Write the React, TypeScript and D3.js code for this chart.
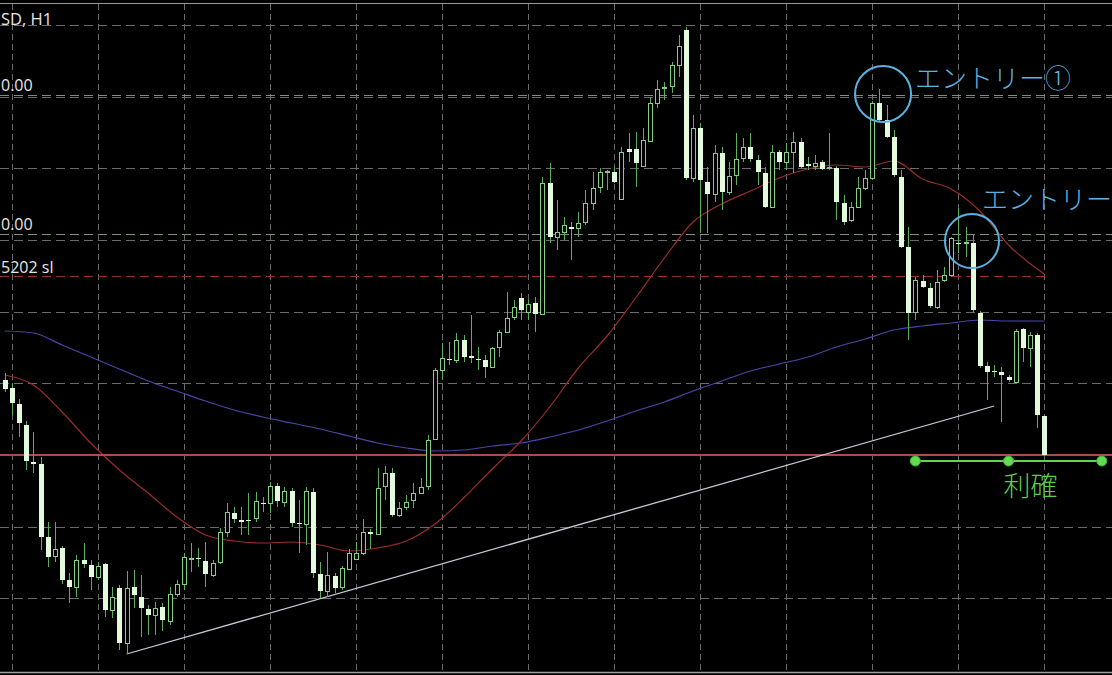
import React from 'react';
import * as d3 from 'd3';

const W = 1112;
const H = 675;

// OHLC values (price in points), candle index 0..145 (H1 bars)
const opens = [
  320, 312, 296, 275, 238, 236, 163, 144, 152, 120, 113, 140, 135, 123, 136, 90, 112, 57, 113, 103,
  91, 85, 93, 79, 106, 116, 141, 142, 139, 125, 138, 168, 187, 180, 180, 182, 197, 197, 214, 198,
  209, 177, 176, 208, 126, 109, 124, 113, 131, 141, 147, 168, 166, 214, 227, 185, 193, 200, 207, 214,
  261, 330, 341, 340, 360, 344, 341, 340, 333, 353, 368, 383, 402, 388, 397, 386, 517, 463, 468, 473,
  472, 478, 497, 513, 528, 528, 501, 551, 551, 534, 559, 597, 612, 614, 635, 670, 522, 572, 518, 506,
  547, 508, 525, 542, 553, 540, 527, 493, 548, 538, 548, 558, 536, 534, 538, 532, 532, 497, 480, 493,
  512, 522, 597, 580, 563, 523, 453, 388, 419, 412, 393, 420, 425, 457, 457, 457, 387, 334, 329, 328,
  323, 318, 371, 352, 365, 284,
];
const highs = [
  327, 317, 301, 279, 268, 243, 178, 178, 154, 127, 145, 157, 140, 138, 137, 113, 115, 129, 130, 125,
  95, 98, 97, 113, 120, 147, 157, 152, 158, 140, 172, 197, 193, 193, 207, 208, 203, 218, 217, 213,
  212, 200, 213, 212, 138, 148, 127, 134, 151, 158, 181, 171, 232, 234, 232, 198, 205, 217, 222, 265,
  332, 357, 358, 367, 365, 385, 353, 345, 353, 370, 408, 400, 407, 400, 403, 523, 537, 500, 483, 478,
  488, 510, 528, 532, 530, 533, 553, 567, 568, 572, 603, 620, 618, 638, 665, 673, 585, 577, 533, 555,
  553, 538, 567, 562, 567, 545, 533, 555, 550, 557, 568, 562, 543, 545, 540, 567, 534, 505, 498, 523,
  530, 599, 611, 595, 570, 530, 473, 423, 425, 417, 430, 433, 463, 492, 473, 465, 389, 338, 335, 333,
  325, 371, 372, 368, 367, 285,
];
const lows = [
  308, 285, 263, 230, 227, 150, 133, 138, 116, 97, 103, 132, 110, 120, 83, 82, 50, 46, 92, 63,
  65, 65, 69, 75, 103, 110, 128, 133, 113, 123, 136, 163, 177, 165, 165, 178, 188, 187, 193, 193,
  173, 147, 155, 122, 102, 103, 107, 110, 130, 140, 145, 151, 165, 200, 183, 183, 190, 192, 207, 210,
  260, 320, 335, 337, 338, 337, 330, 322, 332, 343, 367, 380, 380, 380, 368, 385, 457, 450, 460, 440,
  463, 475, 490, 507, 510, 517, 500, 538, 513, 533, 558, 592, 600, 607, 623, 520, 518, 467, 467, 498,
  490, 505, 515, 538, 538, 515, 492, 492, 530, 530, 527, 532, 530, 530, 530, 530, 480, 475, 478, 492,
  510, 522, 578, 562, 523, 452, 360, 380, 412, 392, 391, 418, 423, 447, 443, 388, 332, 300, 323, 278,
  318, 317, 338, 333, 272, 244,
];
const closes = [
  311, 297, 277, 239, 236, 163, 143, 151, 120, 113, 140, 136, 123, 134, 90, 103, 57, 112, 105, 92,
  85, 92, 80, 106, 116, 143, 142, 141, 126, 137, 168, 188, 181, 178, 179, 199, 196, 214, 199, 209,
  177, 176, 209, 127, 109, 125, 112, 132, 147, 147, 168, 166, 212, 227, 185, 192, 198, 207, 213, 260,
  330, 342, 341, 360, 343, 342, 340, 333, 352, 368, 382, 393, 390, 396, 386, 517, 463, 468, 475, 471,
  477, 497, 512, 528, 529, 518, 548, 548, 537, 560, 597, 611, 613, 635, 654, 522, 572, 520, 506, 547,
  508, 524, 541, 553, 541, 528, 493, 548, 538, 548, 558, 533, 534, 537, 531, 533, 498, 478, 493, 512,
  522, 597, 580, 563, 525, 453, 387, 420, 413, 394, 418, 425, 462, 457, 458, 390, 334, 328, 329, 325,
  320, 369, 352, 365, 285, 245,
];

// Moving averages sampled at bar indices
const maIdx = [0, 4, 8, 12, 16, 20, 24, 28, 32, 36, 40, 44, 48, 52, 56, 60, 64, 68, 72, 76, 80, 84, 88, 92, 96, 100, 104, 108, 112, 116, 120, 124, 128, 132, 136, 140, 144, 145];
const maRed = [325, 315, 288, 257, 230, 207, 183, 165, 159, 157, 158, 155, 149, 152, 159, 176, 202, 231, 259, 293, 332, 364, 402, 442, 478, 496, 509, 522, 531, 535, 533, 539, 521, 511, 489, 455, 431, 426];
const maBlue = [369, 367, 355, 343, 331, 319, 309, 299, 290, 283, 277, 271, 264, 257, 252, 249, 250, 254, 257, 263, 270, 279, 289, 298, 309, 319, 329, 336, 343, 353, 361, 370, 374, 377, 380, 379, 379, 379];

// Grid / levels
const gridIdx = [1, 13, 25, 37, 49, 61, 73, 85, 97, 109, 121, 133, 145];
const gridLevels = [102, 173, 245, 317, 388, 460, 532, 603, 675];
const levelLines = [605, 466];
const levelLabels = ['0.00', '0.00'];
const slLevel = 424;
const slLabel = '5202 sl';
const supportLevel = 245;
const trendIdx = [17, 138];
const trendVal = [46, 294];
const tpIdx = [127, 140, 153];
const tpVal = 239;
const tpLabel = '利確';
const entryIdx = [122.5, 134.9];
const entryVal = [606, 459];
const entryLabels = ['エントリー①', 'エントリー'];
const title = 'SD, H1';

const LAST = 145;

export default function App() {
  const x = d3.scaleLinear().domain([0, LAST]).range([4.7, 1044.4]);
  const y = d3.scaleLinear().domain([28, 697]).range([672, 3]);
  const px = (i: number) => Math.round(x(i)) + 0.5;

  const maLine = d3
    .line<number>()
    .x((_, k) => x(maIdx[k]))
    .y((v) => y(v))
    .curve(d3.curveMonotoneX);

  const gridColor = '#6b6b6b';
  const wick = '#5cae5c';
  const bullStroke = '#82cf82';
  const bearFill = '#e3fadc';
  const latin = '"Open Sans", "Noto Sans", Arial, sans-serif';
  const cjk = '"Noto Sans CJK JP", "Noto Sans", sans-serif';

  return (
    <svg
      width={W}
      height={H}
      style={{ position: 'absolute', left: 0, top: 0, background: '#000', display: 'block' }}
    >
      <rect x={0} y={0} width={W} height={H} fill="#000" />
      {/* frame lines */}
      <line x1={0} x2={W} y1={3.5} y2={3.5} stroke="#9a9a9a" strokeWidth={1} />
      <line x1={0} x2={W} y1={672.5} y2={672.5} stroke="#a0a0a0" strokeWidth={1.5} />

      {/* grid */}
      {gridIdx.map((g) => (
        <line
          key={'gv' + g}
          x1={px(g)}
          x2={px(g)}
          y1={4}
          y2={672}
          stroke={gridColor}
          strokeDasharray="6,4"
        />
      ))}
      {gridLevels.map((v) => (
        <line
          key={'gh' + v}
          x1={0}
          x2={W}
          y1={Math.round(y(v)) + 0.5}
          y2={Math.round(y(v)) + 0.5}
          stroke={gridColor}
          strokeDasharray="9,5"
        />
      ))}

      {/* level lines */}
      {levelLines.map((v, k) => (
        <g key={'lv' + k}>
          <line
            x1={0}
            x2={W}
            y1={Math.round(y(v)) + 0.5}
            y2={Math.round(y(v)) + 0.5}
            stroke="#7f8f78"
            strokeDasharray="9,5"
          />
          <text x={1} y={y(v) - 4} fill="#e6e6e6" fontSize={16} fontFamily={latin}>
            {levelLabels[k]}
          </text>
        </g>
      ))}
      <line
        x1={0}
        x2={x(LAST)}
        y1={Math.round(y(slLevel)) + 0.5}
        y2={Math.round(y(slLevel)) + 0.5}
        stroke="#9a2e2e"
        strokeDasharray="9,5"
      />
      <text x={1} y={y(slLevel) - 3} fill="#e6e6e6" fontSize={16} fontFamily={latin}>
        {slLabel}
      </text>

      {/* moving averages */}
      <path d={maLine(maBlue) || ''} fill="none" stroke="#4747a8" strokeWidth={1.2} />
      <path d={maLine(maRed) || ''} fill="none" stroke="#9b2c2c" strokeWidth={1.2} />

      {/* support line */}
      <line x1={0} x2={W} y1={y(supportLevel)} y2={y(supportLevel)} stroke="#a94c4c" strokeWidth={2} />

      {/* trend line */}
      <line
        x1={x(trendIdx[0])}
        y1={y(trendVal[0])}
        x2={x(trendIdx[1])}
        y2={y(trendVal[1])}
        stroke="#c9c9d6"
        strokeWidth={1.3}
      />

      {/* candles */}
      {opens.map((o, i) => {
        const c = closes[i];
        const cx = px(i);
        const bull = c > o;
        const top = Math.round(y(Math.max(o, c)));
        const bot = Math.round(y(Math.min(o, c)));
        const h = Math.max(1, bot - top);
        return (
          <g key={'c' + i}>
            <line x1={cx} x2={cx} y1={y(highs[i])} y2={y(lows[i])} stroke={wick} strokeWidth={1} />
            {bull ? (
              <rect x={cx - 2} y={top + 0.5} width={4} height={h} fill="#000" stroke={bullStroke} strokeWidth={1} />
            ) : (
              <rect x={cx - 2.5} y={top} width={5} height={h} fill={bearFill} />
            )}
          </g>
        );
      })}

      {/* title */}
      <text x={1} y={25} fill="#e6e6e6" fontSize={16.5} fontFamily={latin}>
        {title}
      </text>

      {/* entry circles */}
      {entryIdx.map((e, k) => (
        <circle
          key={'ec' + k}
          cx={x(e)}
          cy={y(entryVal[k])}
          r={k === 0 ? 28 : 27}
          fill="none"
          stroke="#5ab2e0"
          strokeWidth={2}
        />
      ))}
      <text x={x(entryIdx[0]) + 32} y={y(entryVal[0]) - 6} fill="#5ab2e0" fontSize={26} fontFamily={cjk} fontWeight={300}>
        {entryLabels[0]}
      </text>
      <text x={x(entryIdx[1]) + 10} y={y(entryVal[1]) - 32} fill="#5ab2e0" fontSize={26} fontFamily={cjk} fontWeight={300}>
        {entryLabels[1]}
      </text>

      {/* take-profit marker */}
      <line x1={x(tpIdx[0])} x2={x(tpIdx[2])} y1={y(tpVal)} y2={y(tpVal)} stroke="#5fd650" strokeWidth={2} />
      {tpIdx.map((t) => (
        <circle key={'tp' + t} cx={x(t)} cy={y(tpVal)} r={5} fill="#62dc52" stroke="#45b838" strokeWidth={1} />
      ))}
      <text x={x(tpIdx[1]) - 5} y={y(tpVal) + 35} fill="#5ccd4c" fontSize={27} fontFamily={cjk} fontWeight={300}>
        {tpLabel}
      </text>
    </svg>
  );
}
